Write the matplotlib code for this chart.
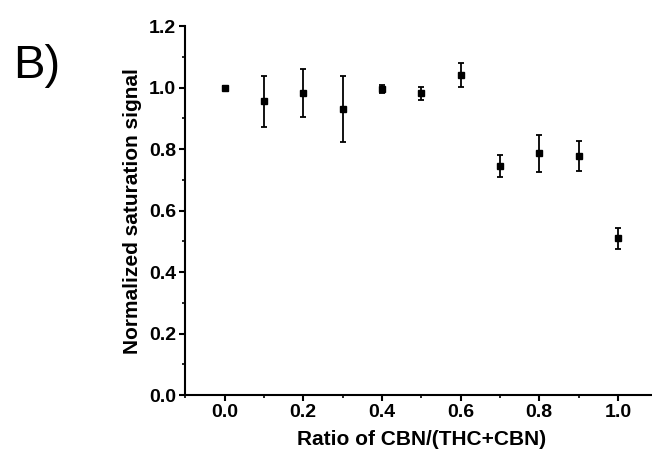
import matplotlib
matplotlib.use('Agg')
import matplotlib.pyplot as plt
from matplotlib.ticker import MultipleLocator

plt.rcParams['font.family'] = ['Liberation Sans', 'DejaVu Sans']

# ratio of CBN/(THC+CBN) and normalized saturation signal
ratio = [0.0, 0.1, 0.2, 0.3, 0.4, 0.5, 0.6, 0.7, 0.8, 0.9, 1.0]
signal = [1.000, 0.955, 0.981, 0.930, 0.995, 0.982, 1.041, 0.744, 0.786, 0.778, 0.510]
err = [0.005, 0.083, 0.078, 0.107, 0.013, 0.021, 0.040, 0.036, 0.060, 0.048, 0.035]

fig = plt.figure(figsize=(6.52, 4.58), dpi=100)
ax = fig.add_axes([0.284, 0.137, 0.724, 0.806])

ax.errorbar(ratio, signal, yerr=err, fmt='s', color='black', markersize=5,
            elinewidth=1.3, capsize=2.5, capthick=1.3)

ax.set_xlim(-0.1, 1.1)
ax.set_ylim(0, 1.2)
ax.xaxis.set_major_locator(MultipleLocator(0.2))
ax.xaxis.set_minor_locator(MultipleLocator(0.1))
ax.yaxis.set_major_locator(MultipleLocator(0.2))
ax.yaxis.set_minor_locator(MultipleLocator(0.1))
ax.set_xticks([0.0, 0.2, 0.4, 0.6, 0.8, 1.0])
ax.set_xticklabels(['0.0', '0.2', '0.4', '0.6', '0.8', '1.0'])

for s in ['top', 'right']:
    ax.spines[s].set_visible(False)
for s in ['left', 'bottom']:
    ax.spines[s].set_linewidth(1.5)

ax.tick_params(which='major', direction='out', length=4, width=1.5, labelsize=14, pad=2.5)
ax.tick_params(which='minor', direction='out', length=2, width=1.2)
for lbl in ax.get_xticklabels() + ax.get_yticklabels():
    lbl.set_fontweight('bold')

ax.set_xlabel('Ratio of CBN/(THC+CBN)', fontsize=15, fontweight='bold', labelpad=6)
ax.set_ylabel('Normalized saturation signal', fontsize=15, fontweight='bold', labelpad=5)

fig.text(0.02, 0.83, 'B)', fontsize=34)

fig.savefig('out.png', dpi=100)
